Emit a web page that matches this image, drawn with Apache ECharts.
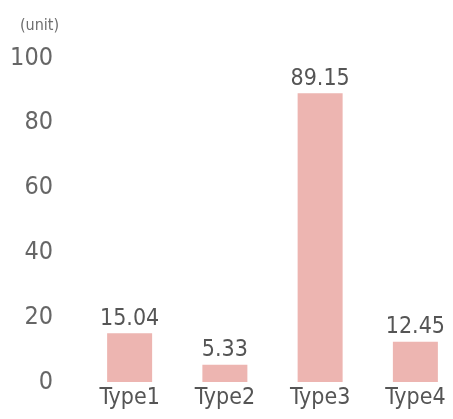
<!DOCTYPE html>
<html>
<head>
<meta charset="utf-8">
<script src="https://cdn.jsdelivr.net/npm/echarts@6/dist/echarts.min.js"></script>
<style>
  html, body { margin: 0; padding: 0; background: #fff; }
  #chart { width: 453px; height: 419px; }
</style>
</head>
<body>
<div id="chart"></div>
<script>
// Categories and values for the bar chart
const categories = ['Type1', 'Type2', 'Type3', 'Type4'];
const values = [15.04, 5.33, 89.15, 12.45];
const yTicks = [0, 20, 40, 60, 80, 100];
const unitLabel = '(unit)';

const textFont = '"DejaVu Sans Condensed", "DejaVu Sans", sans-serif';
const chart = echarts.init(document.getElementById('chart'), null, { renderer: 'canvas' });

chart.setOption({
  animation: false,
  backgroundColor: '#ffffff',
  title: {
    text: unitLabel,
    left: 15,
    top: 13,
    textStyle: { color: '#6f6f6f', fontSize: 16, fontWeight: 'normal', fontFamily: textFont }
  },
  grid: { left: 82, width: 381, top: 58, bottom: 37, outerBoundsMode: 'none', containLabel: false },
  xAxis: {
    type: 'category',
    data: categories,
    axisLine: { show: false },
    axisTick: { show: false },
    axisLabel: { color: '#555', fontSize: 23, fontFamily: textFont, margin: 5 }
  },
  yAxis: {
    type: 'value',
    min: yTicks[0],
    max: yTicks[yTicks.length - 1],
    interval: yTicks[1] - yTicks[0],
    splitLine: { show: false },
    axisLine: { show: false },
    axisTick: { show: false },
    axisLabel: { color: '#666', fontSize: 25, fontFamily: textFont, margin: 29 }
  },
  series: [{
    type: 'bar',
    data: values,
    barWidth: 45,
    itemStyle: { color: '#edb5b1' },
    label: {
      show: true,
      position: 'top',
      distance: 3,
      color: '#555',
      fontSize: 23,
      fontFamily: textFont,
      formatter: p => p.value.toFixed(2)
    }
  }]
});
</script>
</body>
</html>
